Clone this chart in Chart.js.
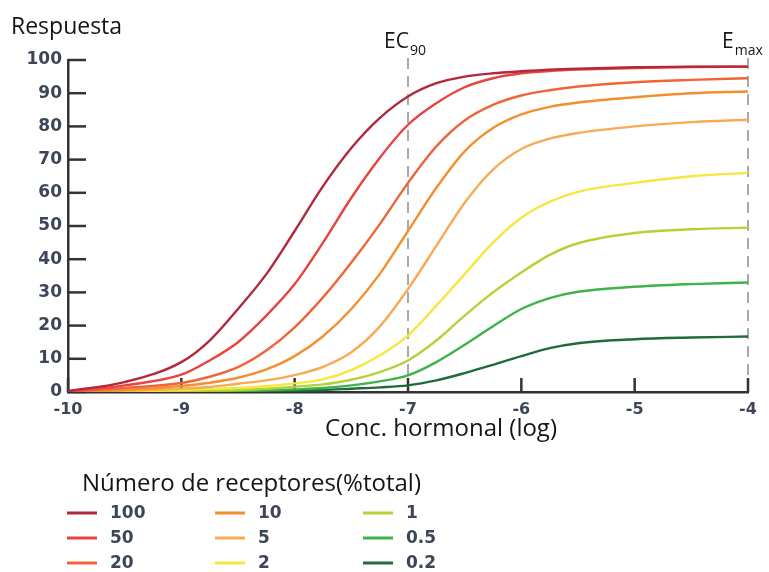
<!DOCTYPE html>
<html><head><meta charset="utf-8">
<script src="https://cdn.jsdelivr.net/npm/chart.js@4.4.1/dist/chart.umd.min.js"></script>
<style>html,body{margin:0;padding:0;background:#fff}#wrap{width:769px;height:572px}</style>
</head><body><div id="wrap"><canvas id="c" width="769" height="572"></canvas></div>
<script>
// ---- data ----
const logConc = [-10, -9.5, -9, -8.75, -8.5, -8.25, -8, -7.75, -7.5, -7.25, -7, -6.75, -6.5, -6.25, -6, -5.75, -5.5, -5, -4.5, -4];
const resp100 = [0.3, 3, 9, 15.5, 25, 35.5, 48.5, 62, 73.5, 82.5, 89, 93, 95, 96, 96.6, 97.1, 97.4, 97.8, 98, 98];
const resp50  = [0.2, 2, 5.2, 9.5, 15, 23, 32.5, 45, 58.5, 70.5, 80.5, 87, 91.8, 94.5, 96, 96.7, 97.1, 97.6, 97.9, 98];
const resp20  = [0.1, 1.2, 2.7, 4.6, 7.5, 12.5, 19.5, 28.5, 39, 50.5, 63, 74, 81.8, 86.5, 89.3, 90.9, 92, 93.3, 94, 94.5];
const resp10  = [0, 0.6, 1.8, 2.8, 4.3, 6.8, 10.8, 16.8, 25, 35.5, 48.5, 61.5, 72.5, 79.5, 83.6, 85.9, 87.2, 88.8, 90, 90.5];
const resp5   = [0, 0.4, 1, 1.5, 2.5, 3.5, 5.1, 7.6, 12, 19.7, 31, 44, 57, 67, 73.2, 76.3, 78, 80, 81.3, 82];
const resp2   = [0, 0.2, 0.6, 0.9, 1.2, 1.8, 2.6, 3.8, 6.6, 11, 17, 26, 35.5, 45, 52.5, 57.3, 60.3, 63, 65, 66];
const resp1   = [0, 0.1, 0.3, 0.4, 0.6, 1, 1.6, 2.3, 3.7, 6, 9.5, 15.5, 23, 30, 36, 41.3, 44.8, 47.9, 49, 49.5];
const resp05  = [0, 0, 0.1, 0.2, 0.3, 0.5, 0.8, 1.2, 2, 3.2, 5, 9, 14.2, 19.8, 25, 28.3, 30.2, 31.7, 32.5, 33];
const resp02  = [0, 0, 0, 0.1, 0.2, 0.3, 0.4, 0.6, 1, 1.4, 2, 3.5, 5.7, 8.2, 10.8, 13.2, 14.7, 15.9, 16.4, 16.7];

const seriesLabels = ['100', '50', '20', '10', '5', '2', '1', '0.5', '0.2'];
const seriesValues = [resp100, resp50, resp20, resp10, resp5, resp2, resp1, resp05, resp02];
const seriesColors = ['#b3283c', '#e8433d', '#f0643a', '#f48f2f', '#f8aa55', '#f6e63e', '#b4d237', '#3fb24b', '#1f6b3b'];

const xTickValues = [-10, -9, -8, -7, -6, -5, -4];
const yTickValues = [0, 10, 20, 30, 40, 50, 60, 70, 80, 90, 100];
const refLines = [{x: -7, main: 'EC', sub: '90'}, {x: -4, main: 'E', sub: 'max'}];

const yTitle = 'Respuesta';
const xTitle = 'Conc. hormonal (log)';
const legendTitle = 'Número de receptores(%total)';

// ---- styles ----
const AXIS = '#333333';
const TICKCOL = '#3d4656';
const TXT = '#151515';
const tickFont = {family: 'DejaVu Sans', size: 17, weight: 'bold'};

const datasets = seriesLabels.map((lab, i) => ({
  label: lab,
  data: logConc.map((x, j) => ({x: x, y: seriesValues[i][j]})),
  borderColor: seriesColors[i],
  backgroundColor: seriesColors[i],
  borderWidth: 2.4,
  pointRadius: 0,
  cubicInterpolationMode: 'monotone',
  fill: false
}));

const decor = {
  id: 'decor',
  beforeDatasetsDraw(chart) {
    const {ctx, chartArea: a, scales: {x, y}} = chart;
    ctx.save();
    ctx.strokeStyle = '#a9a9a9';
    ctx.lineWidth = 2;
    ctx.setLineDash([11, 7]);
    refLines.forEach(r => {
      const px = x.getPixelForValue(r.x);
      ctx.beginPath(); ctx.moveTo(px, a.top - 2); ctx.lineTo(px, a.bottom); ctx.stroke();
    });
    ctx.setLineDash([]);
    ctx.strokeStyle = AXIS;
    ctx.lineWidth = 2.5;
    yTickValues.forEach(v => {
      const py = y.getPixelForValue(v);
      ctx.beginPath(); ctx.moveTo(a.left, py); ctx.lineTo(a.left + 18, py); ctx.stroke();
    });
    xTickValues.forEach(v => {
      const px = x.getPixelForValue(v);
      ctx.beginPath(); ctx.moveTo(px, a.bottom); ctx.lineTo(px, a.bottom - 14); ctx.stroke();
    });
    ctx.restore();
  },
  afterDraw(chart) {
    const {ctx, chartArea: a, scales: {x}} = chart;
    ctx.save();
    ctx.fillStyle = TXT;
    ctx.textBaseline = 'alphabetic';
    ctx.textAlign = 'left';
    ctx.font = '23px "Open Sans"';
    ctx.fillText(yTitle, 11, 34);
    ctx.font = '24px "Open Sans"';
    ctx.textAlign = 'center';
    ctx.fillText(xTitle, 441, 436);
    ctx.textAlign = 'left';
    refLines.forEach(r => {
      const px = x.getPixelForValue(r.x);
      ctx.font = '21px "Open Sans"';
      const w = ctx.measureText(r.main).width;
      const start = px - (r.sub === '90' ? 24 : 26);
      ctx.fillText(r.main, start, 48);
      ctx.font = '14px "Open Sans"';
      ctx.fillText(r.sub, start + w + 1, 55);
    });
    ctx.font = '24px "Open Sans"';
    ctx.fillText(legendTitle, 82, 491);
    chart.data.datasets.forEach((ds, i) => {
      const col = Math.floor(i / 3), row = i % 3;
      const lx = 67 + col * 148, ly = 513 + row * 25;
      ctx.strokeStyle = ds.borderColor;
      ctx.lineWidth = 3;
      ctx.beginPath(); ctx.moveTo(lx, ly); ctx.lineTo(lx + 30, ly); ctx.stroke();
      ctx.fillStyle = TICKCOL;
      ctx.font = 'bold 17px "DejaVu Sans"';
      ctx.textBaseline = 'middle';
      ctx.fillText(ds.label, lx + 43, ly + 1);
    });
    ctx.restore();
  }
};

new Chart(document.getElementById('c'), {
  type: 'line',
  data: {datasets},
  options: {
    responsive: false,
    animation: false,
    layout: {padding: {top: 60, right: 21, left: 0, bottom: 0}},
    plugins: {legend: {display: false}, tooltip: {enabled: false}},
    scales: {
      x: {
        type: 'linear', min: -10, max: -4,
        afterBuildTicks: s => { s.ticks = xTickValues.map(v => ({value: v})); },
        afterFit: s => { s.height = 180; },
        grid: {display: false, drawTicks: false},
        border: {display: true, color: AXIS, width: 2.5},
        ticks: {font: {family: 'DejaVu Sans', size: 16, weight: 'bold'}, color: TICKCOL, padding: 8, maxRotation: 0, autoSkip: false}
      },
      y: {
        type: 'linear', min: 0, max: 100,
        afterBuildTicks: s => { s.ticks = yTickValues.map(v => ({value: v})); },
        afterFit: s => { s.width = 68; },
        grid: {display: false, drawTicks: false},
        border: {display: true, color: AXIS, width: 2.5},
        ticks: {font: tickFont, color: TICKCOL, padding: 6, autoSkip: false}
      }
    }
  },
  plugins: [decor]
});
</script></body></html>
